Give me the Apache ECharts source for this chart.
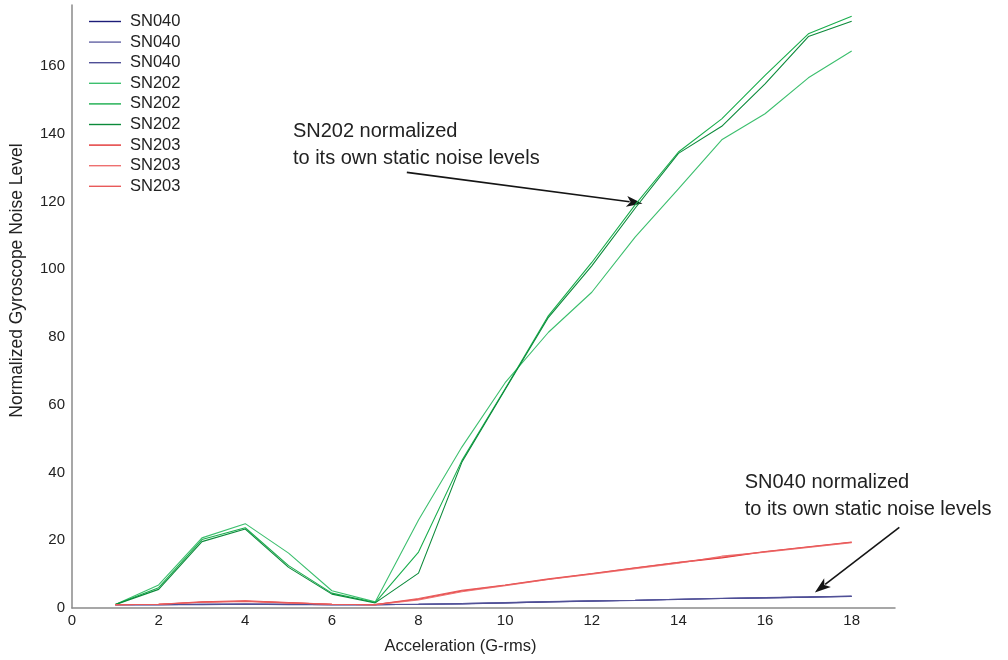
<!DOCTYPE html>
<html>
<head>
<meta charset="utf-8">
<script src="https://cdn.jsdelivr.net/npm/echarts@6/dist/echarts.min.js"></script>
<style>
  html, body { margin: 0; padding: 0; background: #fff; }
  #chart { width: 1008px; height: 660px; }
</style>
</head>
<body>
<div id="chart"></div>
<script>
// Vibration level (G-rms) at each test step
const accel = [1, 2, 3, 4, 5, 6, 7, 8, 9, 10, 11, 12, 13, 14, 15, 16, 17, 18];

// Gyroscope noise normalized to each unit's static noise, three axes per unit
const sn040a = [1.0, 1.0, 1.1, 1.2, 1.1, 1.0, 1.0, 1.1, 1.3, 1.5, 1.8, 2.1, 2.3, 2.6, 2.8, 3.0, 3.2, 3.5];
const sn040b = [1.0, 1.0, 1.1, 1.1, 1.1, 1.0, 1.0, 1.1, 1.3, 1.6, 1.9, 2.1, 2.3, 2.6, 2.9, 3.1, 3.3, 3.4];
const sn040c = [1.0, 1.0, 1.0, 1.1, 1.0, 1.0, 1.0, 1.1, 1.2, 1.5, 1.8, 2.0, 2.2, 2.5, 2.8, 3.0, 3.2, 3.4];

const sn202a = [1.0, 6.8, 20.7, 24.9, 16.2, 5.1, 1.8, 26.0, 47.5, 66.5, 81.4, 93.2, 109.5, 123.7, 138.2, 145.9, 156.5, 164.4];
const sn202b = [1.0, 6.0, 20.2, 23.7, 12.5, 4.4, 1.6, 16.5, 43.5, 64.7, 86.3, 102.0, 119.0, 134.6, 144.4, 157.2, 169.5, 174.7];
const sn202c = [1.0, 5.5, 19.6, 23.3, 12.0, 4.1, 1.5, 10.3, 43.0, 64.5, 85.8, 101.0, 118.0, 134.2, 142.2, 154.7, 168.7, 173.2];

const sn203a = [1.0, 1.1, 1.8, 2.1, 1.6, 1.1, 1.0, 2.6, 5.0, 6.7, 8.5, 10.1, 11.8, 13.4, 14.8, 16.6, 18.0, 19.4];
const sn203b = [1.0, 1.1, 1.7, 2.0, 1.5, 1.1, 1.0, 2.4, 4.8, 6.6, 8.4, 10.0, 11.6, 13.2, 15.3, 16.5, 17.9, 19.3];
const sn203c = [1.0, 1.1, 1.7, 1.9, 1.5, 1.1, 1.0, 2.8, 5.2, 6.8, 8.6, 10.2, 11.9, 13.5, 15.0, 16.7, 18.1, 19.5];

const xTicks = { min: 0, max: 19, interval: 2 };
const yTicks = { min: 0, max: 178, interval: 20 };

const seriesDefs = [
  { name: 'SN040 1', data: sn040a, color: '#1c1c78' },
  { name: 'SN040 2', data: sn040b, color: '#6363a4' },
  { name: 'SN040 3', data: sn040c, color: '#4f4f96' },
  { name: 'SN202 1', data: sn202a, color: '#3cbf6e' },
  { name: 'SN202 2', data: sn202b, color: '#18ad4c' },
  { name: 'SN202 3', data: sn202c, color: '#0b8a3a' },
  { name: 'SN203 1', data: sn203a, color: '#e23232' },
  { name: 'SN203 2', data: sn203b, color: '#ee7070' },
  { name: 'SN203 3', data: sn203c, color: '#e85a5a' }
];

// Annotation callouts: text anchor and arrow tail/head in data space
const notes = [
  { lines: ['SN202 normalized', 'to its own static noise levels'], at: [5.1, 144.6], tail: [7.73, 128.6], head: [13.17, 119.4] },
  { lines: ['SN040 normalized', 'to its own static noise levels'], at: [15.53, 41.0], tail: [19.1, 23.8], head: [17.15, 4.6] }
];

const font = '"Liberation Sans", Arial, sans-serif';
const chart = echarts.init(document.getElementById('chart'), null, { renderer: 'canvas' });

chart.setOption({
  animation: false,
  backgroundColor: '#ffffff',
  grid: { left: 72, right: 113, top: 5, bottom: 52, containLabel: false },
  legend: {
    left: 84, top: 8, orient: 'vertical',
    itemWidth: 32, itemHeight: 14, itemGap: 3.6,
    textStyle: { fontFamily: font, fontSize: 16.5, color: '#222', padding: [0, 0, 0, 4] },
    formatter: n => n.split(' ')[0],
    data: seriesDefs.map(s => ({ name: s.name, icon: 'path://M0,0 L32,0 L32,1.4 L0,1.4 Z' }))
  },
  xAxis: {
    type: 'value', min: xTicks.min, max: xTicks.max, interval: xTicks.interval,
    name: 'Acceleration (G-rms)', nameLocation: 'middle', nameGap: 30,
    nameTextStyle: { fontFamily: font, fontSize: 16.5, color: '#222', padding: [0, 46, 0, 0] },
    axisLine: { lineStyle: { color: '#8a8a8a', width: 1.5 } },
    axisTick: { show: false },
    splitLine: { show: false },
    axisLabel: { fontFamily: font, fontSize: 15, color: '#222', margin: 5, showMaxLabel: false }
  },
  yAxis: {
    type: 'value', min: yTicks.min, max: yTicks.max, interval: yTicks.interval,
    name: 'Normalized Gyroscope Noise Level', nameLocation: 'middle', nameGap: 46, nameRotate: 90,
    nameTextStyle: { fontFamily: font, fontSize: 17.5, color: '#222', padding: [0, 0, 0, 52] },
    axisLine: { show: true, lineStyle: { color: '#8a8a8a', width: 1.5 } },
    axisTick: { show: false },
    splitLine: { show: false },
    axisLabel: { fontFamily: font, fontSize: 15, color: '#222', margin: 7, showMaxLabel: false }
  },
  series: seriesDefs.map(s => ({
    name: s.name, type: 'line', symbol: 'none', showSymbol: false,
    lineStyle: { color: s.color, width: 1.1 },
    itemStyle: { color: s.color },
    data: accel.map((x, i) => [x, s.data[i]])
  }))
});

// Callout text and arrows placed through the chart's own coordinate system
function px(p) { return chart.convertToPixel({ gridIndex: 0 }, p); }
const graphics = [];
notes.forEach(n => {
  const a = px(n.at), t = px(n.tail), h = px(n.head);
  graphics.push({
    type: 'text', x: a[0], y: a[1],
    style: { text: n.lines.join('\n'), font: '20px ' + font, fill: '#222', lineHeight: 27, textVerticalAlign: 'top' }
  });
  const dx = h[0] - t[0], dy = h[1] - t[1], len = Math.hypot(dx, dy);
  const ux = dx / len, uy = dy / len, L = 16, W = 5.5;
  const bx = h[0] - ux * L, by = h[1] - uy * L;
  graphics.push({
    type: 'line', shape: { x1: t[0], y1: t[1], x2: bx + ux * 3, y2: by + uy * 3 },
    style: { stroke: '#151515', lineWidth: 1.6 }
  });
  graphics.push({
    type: 'polygon',
    shape: { points: [[h[0], h[1]], [bx - uy * W, by + ux * W], [bx + ux * 4, by + uy * 4], [bx + uy * W, by - ux * W]] },
    style: { fill: '#151515' }
  });
});
chart.setOption({ graphic: graphics });
</script>
</body>
</html>
